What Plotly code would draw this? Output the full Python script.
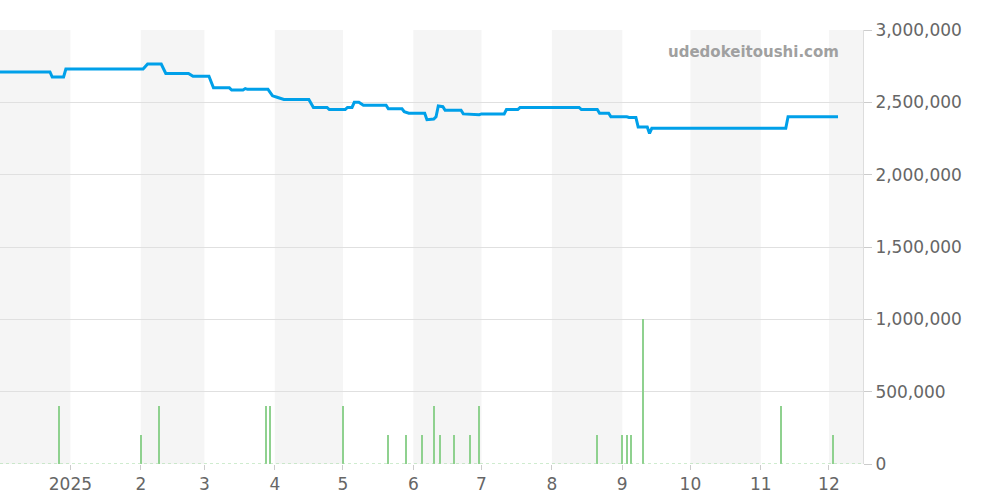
import plotly.graph_objects as go

price_dates = ["2024-12-01","2024-12-23","2024-12-24","2024-12-29","2024-12-30","2025-02-02","2025-02-04",
    "2025-02-10","2025-02-12","2025-02-22","2025-02-24","2025-03-03","2025-03-05","2025-03-12","2025-03-13",
    "2025-03-18","2025-03-19","2025-03-20","2025-03-29","2025-03-31","2025-04-02","2025-04-05","2025-04-16",
    "2025-04-18","2025-04-24","2025-04-25","2025-05-02","2025-05-03","2025-05-05","2025-05-06","2025-05-08",
    "2025-05-10","2025-05-20","2025-05-21","2025-05-27","2025-05-28","2025-05-30","2025-06-06","2025-06-07",
    "2025-06-10","2025-06-11","2025-06-12","2025-06-14","2025-06-15","2025-06-22","2025-06-23","2025-06-30",
    "2025-07-01","2025-07-11","2025-07-12","2025-07-17","2025-07-18","2025-08-13","2025-08-14","2025-08-21",
    "2025-08-22","2025-08-26","2025-08-27","2025-09-03","2025-09-04","2025-09-07","2025-09-08","2025-09-12",
    "2025-09-13","2025-09-14","2025-11-12","2025-11-13","2025-12-05"]
prices = [2710000,2710000,2675000,2675000,2730000,2730000,2765000,
    2765000,2700000,2700000,2680000,2680000,2600000,2600000,2585000,
    2585000,2595000,2590000,2590000,2545000,2535000,2520000,2520000,
    2465000,2465000,2450000,2450000,2465000,2465000,2500000,2500000,
    2480000,2480000,2455000,2455000,2435000,2425000,2425000,2380000,
    2385000,2400000,2475000,2470000,2445000,2445000,2420000,2415000,
    2420000,2420000,2450000,2450000,2465000,2465000,2450000,2450000,
    2425000,2425000,2400000,2400000,2395000,2395000,2330000,2330000,
    2285000,2320000,2320000,2400000,2400000]

vol_dates = ["2024-12-27","2025-02-01","2025-02-09","2025-03-28","2025-03-30","2025-05-01","2025-05-21",
    "2025-05-29","2025-06-05","2025-06-10","2025-06-13","2025-06-19","2025-06-26","2025-06-30","2025-08-21",
    "2025-09-01","2025-09-03","2025-09-05","2025-09-10","2025-11-10","2025-12-03"]
volumes = [400000,200000,400000,400000,400000,400000,200000,
    200000,200000,400000,200000,200000,200000,400000,200000,
    200000,200000,200000,1000000,400000,200000]

tick_dates = ["2025-01-01","2025-02-01","2025-03-01","2025-04-01","2025-05-01","2025-06-01","2025-07-01",
    "2025-08-01","2025-09-01","2025-10-01","2025-11-01","2025-12-01"]
tick_labels = ["2025","2","3","4","5","6","7","8","9","10","11","12"]
shade_bands = [("2024-11-20","2025-01-01"),("2025-02-01","2025-03-01"),("2025-04-01","2025-05-01"),
    ("2025-06-01","2025-07-01"),("2025-08-01","2025-09-01"),("2025-10-01","2025-11-01"),("2025-12-01","2025-12-31")]

fig = go.Figure()
fig.add_trace(go.Scatter(x=[price_dates[0], "2025-12-16"], y=[0, 0], mode="lines",
    line=dict(color="#9fd89f", width=1, dash="dot"), hoverinfo="skip"))
fig.add_trace(go.Bar(x=vol_dates, y=volumes, marker=dict(color="#8fd18f", line=dict(width=0)),
    width=1000*3600*24*0.6))
fig.add_trace(go.Scatter(x=price_dates, y=prices, mode="lines",
    line=dict(color="#00a0e9", width=3)))

for a, b in shade_bands:
    fig.add_vrect(x0=a, x1=b, fillcolor="#f5f5f5", line_width=0, layer="below")

fig.add_annotation(text="<b>udedokeitoushi.com</b>", xref="paper", yref="paper", x=0.975, y=0.975,
    xanchor="right", yanchor="top", showarrow=False,
    font=dict(size=15, color="#a0a0a0", family="DejaVu Sans"))

fig.update_layout(
    width=1000, height=500, showlegend=False, bargap=0,
    plot_bgcolor="white", paper_bgcolor="white",
    margin=dict(l=0, r=137, t=30, b=36),
    font=dict(family="DejaVu Sans", size=17, color="#666666"),
    xaxis=dict(range=["2024-12-01", "2025-12-16"], tickvals=tick_dates, ticktext=tick_labels,
        showgrid=False, ticks="outside", ticklen=5, tickcolor="#cccccc", showline=False),
    yaxis=dict(side="right", range=[0, 3000000], tickvals=[0,500000,1000000,1500000,2000000,2500000,3000000],
        tickformat=",", gridcolor="#e0e0e0", zeroline=False, ticks="outside", ticklen=8, tickcolor="#cccccc",
        showline=True, linecolor="#dddddd"),
)
fig.write_html("out.html", config={"displayModeBar": False},
    post_script="document.body.style.margin='0';")
